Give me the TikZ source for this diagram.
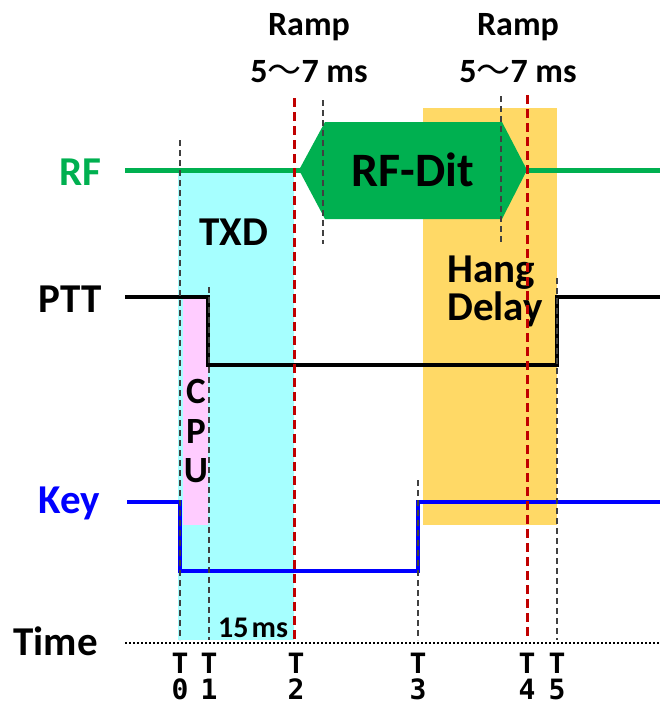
\documentclass[tikz,border=0pt]{standalone}
\usepackage{fontspec}
\setmainfont{Carlito}
\newfontfamily\cjk{Noto Sans CJK SC}
\newfontfamily\monofnt{DejaVu Sans Mono}
\definecolor{rfgreen}{RGB}{0,176,80}
\definecolor{txdcyan}{RGB}{166,255,255}
\definecolor{cpupink}{RGB}{255,204,255}
\definecolor{hangorange}{RGB}{255,217,102}
\definecolor{keyblue}{RGB}{0,0,255}
\definecolor{rampred}{RGB}{192,0,0}
\definecolor{guidegray}{RGB}{64,64,64}
\begin{document}
\begin{tikzpicture}[x=1pt,y=-1pt,
  biglbl/.style={font=\fontsize{41}{41}\selectfont\bfseries, inner sep=0pt},
  ditlbl/.style={font=\fontsize{48}{48}\selectfont\bfseries, inner sep=0pt},
  ramplbl/.style={font=\fontsize{34}{34}\selectfont\bfseries, inner sep=0pt, anchor=base},
  cpulbl/.style={font=\fontsize{37}{37}\selectfont\bfseries, inner sep=0pt, anchor=base},
  mslbl/.style={font=\fontsize{30}{30}\selectfont\bfseries, inner sep=0pt, anchor=base west},
  tlbl/.style={font=\fontsize{28}{28}\selectfont\monofnt\bfseries, inner sep=0pt, anchor=base},
  guide/.style={guidegray, line width=2pt, dash pattern=on 6pt off 4pt},
  redguide/.style={rampred, line width=3pt, dash pattern=on 9pt off 5pt},
  sig/.style={line width=#1, line join=miter}]
\useasboundingbox (0,0) rectangle (660,707);

% shaded regions
\fill[txdcyan] (178,170) rectangle (294,640);
\fill[hangorange] (423,108) rectangle (557,525);
\fill[cpupink] (183,299) rectangle (208,525);

% signals
\draw[rfgreen, sig=5pt] (125,170) -- (660,170);
\fill[rfgreen] (299,170) -- (325,122) -- (502,122) -- (527,170) -- (502,219) -- (325,219) -- cycle;
\draw[black, sig=4pt] (125,297) -| (208,365) -| (557,297) -- (660,297);
\draw[keyblue, sig=3.5pt] (127,502) -| (180,571) -| (418,502) -- (660,502);
\draw[line width=2pt, dash pattern=on 2pt off 2pt] (125,643) -- (660,643);

% labels
\node[biglbl, text=rfgreen, anchor=base east] (rf) at (102,185) {RF};
\node[biglbl, anchor=base east] (ptt) at (102,312) {PTT};
\node[biglbl, text=keyblue, anchor=base east] (key) at (100,513) {Key};
\node[biglbl, anchor=base east] (time) at (98,655) {Time};
\node[biglbl, anchor=base] (txd) at (234,245) {TXD};
\node[ditlbl, anchor=base] (dit) at (413,186) {RF-Dit};
\node[biglbl, anchor=base west] (hang) at (447,282) {Hang};
\node[biglbl, anchor=base west] (delay) at (447,320) {Delay};
\node[cpulbl] (cpuc) at (196,403) {C};
\node[cpulbl] (cpup) at (196,443) {P};
\node[cpulbl] (cpuu) at (196,482) {U};
\node[mslbl] (ms) at (218,637) {15\hspace{3pt}ms};
\node[ramplbl] (rampa) at (309,35) {Ramp};
\node[ramplbl] (rampb) at (309,82) {5{\cjk\mdseries ～}7 ms};
\node[ramplbl] (rampc) at (518,35) {Ramp};
\node[ramplbl] (rampd) at (518,82) {5{\cjk\mdseries ～}7 ms};

\foreach \xx/\dd/\nm in {180/0/a,209/1/b,296/2/c,418/3/d,527/4/e,557/5/f}{
  \node[tlbl] (t\nm) at (\xx,673) {T};
  \node[tlbl] (d\nm) at (\xx,699) {\dd};
}

% guide lines
\draw[guide] (180,140) -- (180,640);
\draw[guide] (209,287) -- (209,640);
\draw[guide] (323,100) -- (323,244);
\draw[guide] (501,96) -- (501,243);
\draw[guide] (418,480) -- (418,640);
\draw[guide] (557,278) -- (557,640);
\draw[redguide] (294,98) -- (294,643);
\draw[redguide] (527,95) -- (527,640);
\end{tikzpicture}
\end{document}
